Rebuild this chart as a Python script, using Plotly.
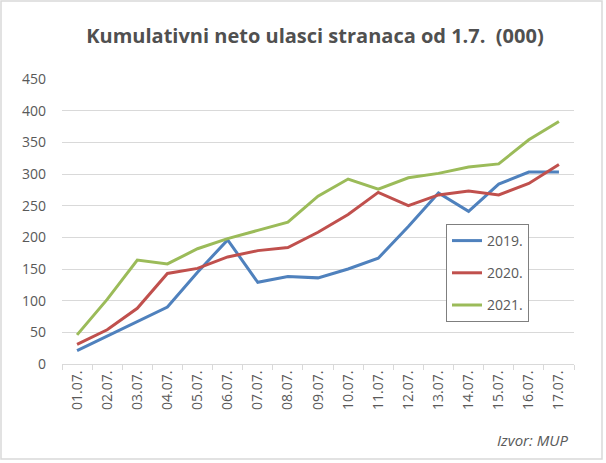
import plotly.graph_objects as go

# Data (thousands)
days = ['01.07.', '02.07.', '03.07.', '04.07.', '05.07.', '06.07.', '07.07.', '08.07.', '09.07.',
        '10.07.', '11.07.', '12.07.', '13.07.', '14.07.', '15.07.', '16.07.', '17.07.']
y2019 = [21, 44, 67, 90, 145, 196, 129, 138, 136, 150, 167, 217, 270, 241, 284, 303, 303]
y2020 = [31, 54, 88, 143, 151, 169, 179, 184, 208, 236, 271, 250, 267, 273, 267, 285, 315]
y2021 = [46, 102, 164, 158, 182, 198, 211, 224, 265, 292, 276, 294, 301, 311, 316, 354, 383]

series = [('2019.', y2019, '#4f81bd'), ('2020.', y2020, '#c0504d'), ('2021.', y2021, '#9bbb59')]

W, H = 606, 463
L, R, T, B = 62, 32, 79, 99
pw, ph = W - L - R, H - T - B
text_col = '#595959'
grid_col = '#d9d9d9'

fig = go.Figure()
for name, vals, col in series:
    fig.add_trace(go.Scatter(x=days, y=vals, name=name, mode='lines', legendgroup=name,
                             line=dict(color=col, width=3)))


def px_x(p):
    return (p - L) / pw


def px_y(p):
    return (H - B - p) / ph


fig.update_layout(
    width=W, height=H,
    margin=dict(l=L, r=R, t=T, b=B),
    paper_bgcolor='white', plot_bgcolor='white',
    font=dict(family='Open Sans, DejaVu Sans, sans-serif', color=text_col),
    title=dict(text='<b>Kumulativni neto ulasci stranaca od 1.7.  (000)</b>',
               xref='container', x=315 / W, xanchor='center',
               yref='container', y=1 - 36 / H, yanchor='middle',
               font=dict(size=20, color='#505050')),
    showlegend=True,
    legend=dict(x=px_x(446), y=px_y(224), xanchor='left', yanchor='top',
                bordercolor='#7f7f7f', borderwidth=1, bgcolor='white',
                font=dict(size=14, color=text_col), itemwidth=30,
                tracegroupgap=11, traceorder='grouped'),
    xaxis=dict(type='category', range=[-0.5, 16.5], showgrid=False,
               showline=True, linecolor=grid_col, linewidth=1,
               ticks='outside', tickson='boundaries', ticklen=5, tickcolor=grid_col,
               tickangle=-90, tickfont=dict(size=14, color=text_col)),
    yaxis=dict(range=[0, 450], dtick=50, showgrid=True, gridcolor=grid_col, gridwidth=1,
               zeroline=False, showline=False, ticks='', ticklabelstandoff=15,
               tickfont=dict(size=14, color=text_col)),
    shapes=[dict(type='rect', xref='paper', yref='paper',
                 x0=px_x(1), x1=px_x(602), y0=px_y(459), y1=px_y(1),
                 line=dict(color=grid_col, width=1.5))],
    annotations=[dict(text='<i>Izvor: MUP</i>', xref='paper', yref='paper',
                      x=px_x(570), y=px_y(440), xanchor='right', yanchor='middle',
                      showarrow=False, font=dict(size=15, color=text_col))],
)

# drop the default page margin so the chart sits at the window's top-left corner
fig.write_html('out.html', config={'displayModeBar': False},
               post_script="document.body.style.margin='0';")
